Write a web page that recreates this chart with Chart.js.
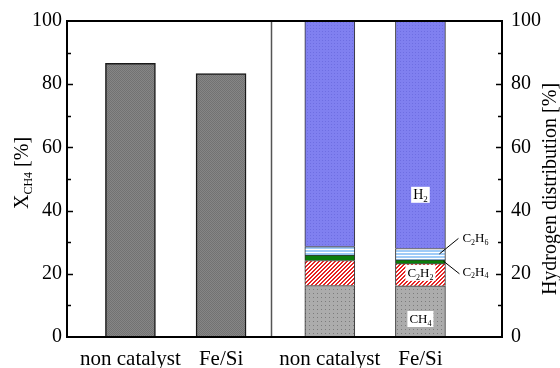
<!DOCTYPE html>
<html>
<head>
<meta charset="utf-8">
<script src="https://cdn.jsdelivr.net/npm/chart.js@4.4.1/dist/chart.umd.min.js"></script>
<style>
  html, body { margin: 0; padding: 0; background: #fff; }
  #wrap { width: 560px; height: 368px; }
</style>
</head>
<body>
<div id="wrap"><canvas id="c" width="560" height="368"></canvas></div>
<script>
// ---- data ----
const categories = ['non catalyst', 'Fe/Si'];
const conversion = [86.6, 83.4];          // methane conversion X_CH4 [%]
const ch4  = [16.3, 16.2];                // hydrogen distribution [%]
const c2h2 = [7.9, 7.0];
const c2h4 = [1.7, 1.2];
const c2h6 = [2.7, 3.6];
const h2   = [71.4, 72.0];
const yTicks = [0, 20, 40, 60, 80, 100];

// ---- layout of the two panels on one linear x scale ----
const X_MIN = -0.7, X_MAX = 4.1;
const leftPanel = 0, rightPanel = 2.2, dividerX = 1.55;
const pos = (panel, i) => panel + i;
const pts = (panel, vals) => vals.map((v, i) => ({ x: pos(panel, i), y: v }));
const tickPositions = [0, 1].map(i => pos(leftPanel, i)).concat([0, 1].map(i => pos(rightPanel, i)));

const FONT = "'Liberation Serif', 'Times New Roman', serif";

// ---- fill patterns ----
function makePattern(w, h, draw) {
  const c = document.createElement('canvas');
  c.width = w; c.height = h;
  const g = c.getContext('2d');
  draw(g, w, h);
  return g.createPattern(c, 'repeat');
}
const fillConv = makePattern(2, 2, g => {
  g.fillStyle = '#868686'; g.fillRect(0, 0, 2, 2);
  g.fillStyle = '#727272'; g.fillRect(0, 0, 1, 1); g.fillRect(1, 1, 1, 1);
});
const fillCH4 = makePattern(4, 4, g => {
  g.fillStyle = '#acacac'; g.fillRect(0, 0, 4, 4);
  g.fillStyle = '#7c7c7c'; g.fillRect(1, 1, 1, 1);
});
const fillC2H2 = makePattern(4, 4, g => {
  g.fillStyle = '#ffffff'; g.fillRect(0, 0, 4, 4);
  g.fillStyle = '#e52222';
  for (let i = 0; i < 4; i++) { g.fillRect(i, 3 - i, 1, 1); g.fillRect((i + 1) % 4, 3 - i, 1, 1); }
});
const fillC2H6 = makePattern(1, 3, g => {
  g.fillStyle = '#ffffff'; g.fillRect(0, 0, 1, 3);
  g.fillStyle = '#9fcbf7'; g.fillRect(0, 1, 1, 2);
});
const fillH2 = makePattern(3, 3, g => {
  g.fillStyle = '#8080f0'; g.fillRect(0, 0, 3, 3);
  g.fillStyle = '#6e6ee2'; g.fillRect(1, 1, 1, 1);
});

// ---- text with subscripts ----
// parts: [[text, isSub], ...]
function richWidth(ctx, parts, size) {
  let w = 0;
  for (const [t, sub] of parts) {
    ctx.font = (sub ? Math.round(size * 0.62) : size) + 'px ' + FONT;
    w += ctx.measureText(t).width;
  }
  return w;
}
function drawRich(ctx, parts, x, y, size, align) {
  const w = richWidth(ctx, parts, size);
  let cx = align === 'center' ? x - w / 2 : (align === 'right' ? x - w : x);
  ctx.textBaseline = 'alphabetic';
  ctx.textAlign = 'left';
  for (const [t, sub] of parts) {
    ctx.font = (sub ? Math.round(size * 0.62) : size) + 'px ' + FONT;
    ctx.fillText(t, cx, sub ? y + size * 0.18 : y);
    cx += ctx.measureText(t).width;
  }
  return w;
}

const lbl = {
  H2:   [['H', 0], ['2', 1]],
  CH4:  [['CH', 0], ['4', 1]],
  C2H2: [['C', 0], ['2', 1], ['H', 0], ['2', 1]],
  C2H4: [['C', 0], ['2', 1], ['H', 0], ['4', 1]],
  C2H6: [['C', 0], ['2', 1], ['H', 0], ['6', 1]]
};

// frame, divider, inward ticks, axis titles and species labels
const decorations = {
  id: 'decorations',
  afterDraw(chart) {
    const { ctx, chartArea: a, scales } = chart;
    const sx = scales.x, yl = scales.y, yr = scales.y2;
    const line = (x1, y1, x2, y2) => { ctx.beginPath(); ctx.moveTo(x1, y1); ctx.lineTo(x2, y2); ctx.stroke(); };
    ctx.save();

    // panel divider
    const xd = Math.round(sx.getPixelForValue(dividerX)) + 0.5;
    ctx.strokeStyle = '#555'; ctx.lineWidth = 1.5;
    line(xd, a.top, xd, a.bottom);

    // frame
    ctx.strokeStyle = '#000'; ctx.lineWidth = 2;
    ctx.strokeRect(a.left, a.top, a.right - a.left, a.bottom - a.top);

    // inward ticks, major every 20, minor every 10
    ctx.lineWidth = 1.5;
    for (let v = 10; v < 100; v += 10) {
      const len = v % 20 === 0 ? 6 : 4;
      const pl = Math.round(yl.getPixelForValue(v)) + 0.5;
      const pr = Math.round(yr.getPixelForValue(v)) + 0.5;
      line(a.left, pl, a.left + len, pl);
      line(a.right - len, pr, a.right, pr);
    }

    ctx.fillStyle = '#000';
    // left axis title  X_CH4 [%]
    ctx.save();
    ctx.translate(28, (a.top + a.bottom) / 2 - 6);
    ctx.rotate(-Math.PI / 2);
    drawRich(ctx, [['X', 0], ['CH4', 1], [' [%]', 0]], 0, 0, 20, 'center');
    ctx.restore();
    // right axis title
    ctx.save();
    ctx.translate(556, (a.top + a.bottom) / 2 + 10);
    ctx.rotate(-Math.PI / 2);
    drawRich(ctx, [['Hydrogen distribution [%]', 0]], 0, 0, 20, 'center');
    ctx.restore();

    // labels inside the Fe/Si stacked bar (white boxes)
    const bx = sx.getPixelForValue(pos(rightPanel, 1));
    const inside = [[lbl.H2, 45, 14], [lbl.C2H2, 20.3, 13], [lbl.CH4, 5.7, 13]];
    for (const [parts, v, size] of inside) {
      const w = richWidth(ctx, parts, size);
      const y = yr.getPixelForValue(v);
      ctx.fillStyle = '#fff';
      ctx.fillRect(bx - w / 2 - 2, y - 8, w + 4, 16);
      ctx.fillStyle = '#000';
      drawRich(ctx, parts, bx, y + 4.5, size, 'center');
    }

    // labels beside the bar with leader lines
    const barRight = bx + 25;
    ctx.strokeStyle = '#000'; ctx.lineWidth = 1;
    line(barRight + 13, yr.getPixelForValue(31.2), barRight - 6, yr.getPixelForValue(26.3));
    line(barRight - 2, yr.getPixelForValue(24.0), barRight + 14, yr.getPixelForValue(20.0));
    drawRich(ctx, lbl.C2H6, barRight + 17, yr.getPixelForValue(31.4) + 4.5, 13, 'left');
    drawRich(ctx, lbl.C2H4, barRight + 17, yr.getPixelForValue(20.8) + 4.5, 13, 'left');

    ctx.restore();
  }
};

// all bars are centred on their own x value (no side-by-side grouping)
const barStyle = { grouped: false, maxBarThickness: 50, barPercentage: 1, categoryPercentage: 1, stack: 'all' };

const stackSet = (vals, fill) => Object.assign({
  data: pts(rightPanel, vals),
  yAxisID: 'y2',
  backgroundColor: fill,
  borderColor: '#333',
  borderWidth: 1
}, barStyle);

new Chart(document.getElementById('c'), {
  type: 'bar',
  data: {
    datasets: [
      Object.assign({
        data: pts(leftPanel, conversion),
        yAxisID: 'y',
        backgroundColor: fillConv,
        borderColor: '#1a1a1a',
        borderWidth: 1.5
      }, barStyle),
      stackSet(ch4, fillCH4),
      stackSet(c2h2, fillC2H2),
      stackSet(c2h4, '#0b7d0b'),
      stackSet(c2h6, fillC2H6),
      stackSet(h2, fillH2)
    ]
  },
  options: {
    responsive: false,
    animation: false,
    devicePixelRatio: 1,
    layout: { padding: { top: 19, left: 0, right: 0, bottom: 0 } },
    plugins: { legend: { display: false }, tooltip: { enabled: false } },
    scales: {
      x: {
        type: 'linear',
        min: X_MIN, max: X_MAX,
        offset: false,
        bounds: 'data',
        stacked: true,
        grid: { display: false, drawTicks: false, offset: false },
        border: { display: false },
        afterBuildTicks: s => { s.ticks = tickPositions.map(v => ({ value: v })); },
        afterFit: s => { s.height = 31; s.paddingLeft = 0; s.paddingRight = 0; },
        ticks: {
          autoSkip: false, maxRotation: 0, padding: 10,
          color: '#000', font: { family: FONT, size: 21 },
          callback: (v, i) => categories[i % categories.length]
        }
      },
      y: {
        position: 'left',
        min: 0, max: 100,
        grid: { display: false, drawTicks: false },
        border: { display: false },
        afterBuildTicks: s => { s.ticks = yTicks.map(v => ({ value: v })); },
        afterFit: s => { s.width = 67; },
        ticks: { padding: 5, color: '#000', font: { family: FONT, size: 20 } }
      },
      y2: {
        position: 'right',
        min: 0, max: 100,
        stacked: true,
        grid: { display: false, drawTicks: false },
        border: { display: false },
        afterBuildTicks: s => { s.ticks = yTicks.map(v => ({ value: v })); },
        afterFit: s => { s.width = 58; },
        ticks: { padding: 9, color: '#000', font: { family: FONT, size: 20 } }
      }
    }
  },
  plugins: [decorations]
});
</script>
</body>
</html>
